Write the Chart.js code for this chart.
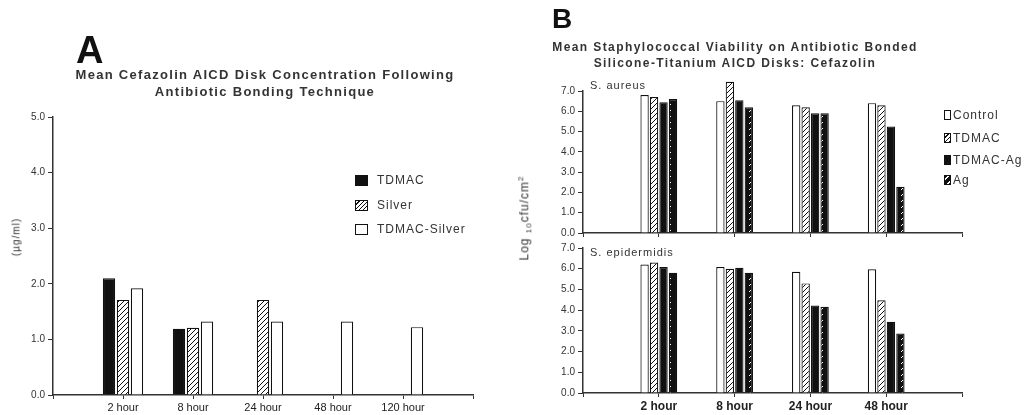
<!DOCTYPE html>
<html>
<head>
<meta charset="utf-8">
<script src="https://cdn.jsdelivr.net/npm/chart.js@4/dist/chart.umd.min.js"></script>
<style>
  html, body { margin: 0; padding: 0; background: #fff; }
  #wrap { position: relative; width: 1033px; height: 415px; overflow: hidden; font-family: "Liberation Sans", Arial, sans-serif; color: #222; }
  canvas { position: absolute; }
  .abs { position: absolute; white-space: nowrap; }
  .letter { font-weight: bold; line-height: 1; color: #111; }
  .ttl { font-size: 12px; line-height: 12px; font-weight: bold; letter-spacing: 1.4px; color: #333; transform: translateX(-50%); }
  .ttlA { font-size: 13px; line-height: 13px; letter-spacing: 1.3px; }
  .leg { font-size: 12px; line-height: 12px; letter-spacing: 1px; color: #333; }
  .sym { position: absolute; box-sizing: border-box; border: 1px solid #111; background: #fff; }
  .hatch { background: repeating-linear-gradient(135deg, #fff 0 2px, #111 2px 3px); }
  .solid { background: #111; }
  .dash { background: repeating-linear-gradient(135deg, #111 0 2px, #fff 2px 3px, #111 3px 5px); }
  .sub { font-size: 11px; letter-spacing: 1px; color: #333; line-height: 11px; }
</style>
</head>
<body>
<div id="wrap">
  <canvas id="chartA" width="490" height="415" style="left:0;top:0"></canvas>
  <canvas id="chartB1" width="543" height="415" style="left:490px;top:0"></canvas>
  <canvas id="chartB2" width="543" height="415" style="left:490px;top:0"></canvas>

  <div class="abs letter" style="left:76px;top:31px;font-size:38px">A</div>
  <div class="abs ttl ttlA" style="left:265px;top:68px">Mean Cefazolin AICD Disk Concentration Following</div>
  <div class="abs ttl ttlA" style="left:265px;top:85px">Antibiotic Bonding Technique</div>

  <div class="abs letter" style="left:552px;top:5px;font-size:28px">B</div>
  <div class="abs ttl" style="left:735px;top:41px">Mean Staphylococcal Viability on Antibiotic Bonded</div>
  <div class="abs ttl" style="left:735px;top:57px">Silicone-Titanium AICD Disks: Cefazolin</div>

  <div class="abs sub" style="left:16px;top:237px;font-size:10px;transform:translate(-50%,-50%) rotate(-90deg)">(µg/ml)</div>
  <div class="abs sub" style="left:525px;top:218px;font-size:12px;transform:translate(-50%,-50%) rotate(-90deg)">Log <sub style="font-size:8px">10</sub>cfu/cm<sup style="font-size:8px">2</sup></div>

  <div class="abs sub" style="left:590px;top:80px">S. aureus</div>
  <div class="abs sub" style="left:590px;top:247px">S. epidermidis</div>

  <!-- legend A -->
  <div class="sym solid" style="left:355px;top:175px;width:13px;height:11px"></div>
  <div class="abs leg" style="left:377px;top:174px">TDMAC</div>
  <div class="sym hatch" style="left:355px;top:200px;width:13px;height:11px"></div>
  <div class="abs leg" style="left:377px;top:199px">Silver</div>
  <div class="sym" style="left:355px;top:224px;width:13px;height:11px"></div>
  <div class="abs leg" style="left:377px;top:223px">TDMAC-Silver</div>

  <!-- legend B -->
  <div class="sym" style="left:944px;top:110px;width:7px;height:10px"></div>
  <div class="abs leg" style="left:953px;top:109px">Control</div>
  <div class="sym hatch" style="left:944px;top:133px;width:7px;height:10px"></div>
  <div class="abs leg" style="left:953px;top:132px">TDMAC</div>
  <div class="sym solid" style="left:944px;top:155px;width:7px;height:10px"></div>
  <div class="abs leg" style="left:953px;top:154px">TDMAC-Ag</div>
  <div class="sym dash" style="left:944px;top:175px;width:7px;height:10px"></div>
  <div class="abs leg" style="left:953px;top:174px">Ag</div>
</div>

<script>
// panel A: cefazolin concentration (µg/ml)
const hoursA = ['', '2 hour', '8 hour', '24 hour', '48 hour', '120 hour', ''];
const tdmacA = [null, 2.10, 1.19, null, null, null, null];
const silverA = [null, 1.71, 1.21, 1.71, null, null, null];
const tdmacSilverA = [null, 1.92, 1.32, 1.32, 1.32, 1.22, null];
const ticksA = [0, 1, 2, 3, 4, 5];

// panel B: log10 cfu/cm2
const hoursB = ['', '2 hour', '8 hour', '24 hour', '48 hour', ''];
const aureusControl = [null, 6.80, 6.50, 6.30, 6.40, null];
const aureusTdmac = [null, 6.70, 7.45, 6.20, 6.30, null];
const aureusTdmacAg = [null, 6.45, 6.55, 5.90, 5.25, null];
const aureusAg = [null, 6.60, 6.20, 5.90, 2.28, null];
const epidControl = [null, 6.20, 6.08, 5.85, 5.97, null];
const epidTdmac = [null, 6.30, 6.00, 5.29, 4.48, null];
const epidTdmacAg = [null, 6.08, 6.05, 4.22, 3.44, null];
const epidAg = [null, 5.80, 5.80, 4.16, 2.87, null];
const ticksB = [0, 1, 2, 3, 4, 5, 6, 7];

Chart.defaults.font.family = '"Liberation Sans", Arial, sans-serif';
Chart.defaults.color = '#333';
Chart.defaults.animation = false;

const INK = '#111';

function hatchPattern() {
  const c = document.createElement('canvas');
  c.width = 5; c.height = 5;
  const g = c.getContext('2d');
  g.fillStyle = '#fff';
  g.fillRect(0, 0, 5, 5);
  g.strokeStyle = INK;
  g.lineWidth = 1;
  g.beginPath();
  g.moveTo(0, 5); g.lineTo(5, 0);
  g.moveTo(-1, 1); g.lineTo(1, -1);
  g.moveTo(4, 6); g.lineTo(6, 4);
  g.stroke();
  return g.createPattern(c, 'repeat');
}

function dashPattern() {
  const c = document.createElement('canvas');
  c.width = 8; c.height = 6;
  const g = c.getContext('2d');
  g.fillStyle = INK;
  g.fillRect(0, 0, 8, 6);
  g.strokeStyle = '#fff';
  g.lineWidth = 1;
  g.beginPath();
  g.moveTo(3, 4); g.lineTo(5, 2);
  g.stroke();
  return g.createPattern(c, 'repeat');
}

const hatch = hatchPattern();
const dashed = dashPattern();

function bar(label, data, fill) {
  return {
    label: label,
    data: data,
    backgroundColor: fill,
    borderColor: INK,
    borderWidth: 1.2,
    clip: false
  };
}

function options(cfg) {
  return {
    responsive: false,
    animation: false,
    layout: { padding: cfg.padding },
    plugins: { legend: { display: false }, tooltip: { enabled: false } },
    datasets: { bar: { categoryPercentage: cfg.cat, barPercentage: 0.88 } },
    scales: {
      x: {
        type: 'category',
        offset: false,
        grid: { offset: false, drawOnChartArea: false, drawTicks: true, tickLength: 4, color: '#333' },
        border: { display: true, color: '#333', width: 1.5 },
        ticks: {
          display: cfg.xLabels,
          autoSkip: false,
          maxRotation: 0,
          padding: 2,
          color: '#222',
          font: cfg.xFont
        },
        afterFit: (s) => { s.height = cfg.xHeight; }
      },
      y: {
        min: 0,
        max: cfg.yMax,
        afterBuildTicks: (s) => { s.ticks = cfg.yTicks.map(v => ({ value: v })); },
        grid: { drawOnChartArea: false, drawTicks: true, tickLength: cfg.yTick, color: '#333' },
        border: { display: true, color: '#333', width: 1.5 },
        ticks: {
          padding: 3,
          font: { size: 10 },
          callback: (v) => Number(v).toFixed(1)
        },
        afterFit: (s) => { s.width = cfg.yWidth; }
      }
    }
  };
}

new Chart(document.getElementById('chartA'), {
  type: 'bar',
  data: {
    labels: hoursA,
    datasets: [
      bar('TDMAC', tdmacA, INK),
      bar('Silver', silverA, hatch),
      bar('TDMAC-Silver', tdmacSilverA, '#fff')
    ]
  },
  options: options({
    padding: { top: 117, right: 17, bottom: 0, left: 0 },
    cat: 0.6, xLabels: true, xHeight: 20, xFont: { size: 11 },
    yMax: 5, yTicks: ticksA, yWidth: 53, yTick: 5
  })
});

new Chart(document.getElementById('chartB1'), {
  type: 'bar',
  data: {
    labels: hoursB,
    datasets: [
      bar('Control', aureusControl, '#fff'),
      bar('TDMAC', aureusTdmac, hatch),
      bar('TDMAC-Ag', aureusTdmacAg, INK),
      bar('Ag', aureusAg, dashed)
    ]
  },
  options: options({
    padding: { top: 91, right: 71, bottom: 174, left: 0 },
    cat: 0.5, xLabels: false, xHeight: 8, xFont: { size: 12, weight: 'bold' },
    yMax: 7, yTicks: ticksB, yWidth: 93, yTick: 5
  })
});

new Chart(document.getElementById('chartB2'), {
  type: 'bar',
  data: {
    labels: hoursB,
    datasets: [
      bar('Control', epidControl, '#fff'),
      bar('TDMAC', epidTdmac, hatch),
      bar('TDMAC-Ag', epidTdmacAg, INK),
      bar('Ag', epidAg, dashed)
    ]
  },
  options: options({
    padding: { top: 248, right: 71, bottom: 0, left: 0 },
    cat: 0.5, xLabels: true, xHeight: 22, xFont: { size: 12, weight: 'bold' },
    yMax: 7, yTicks: ticksB, yWidth: 93, yTick: 5
  })
});
</script>
</body>
</html>
